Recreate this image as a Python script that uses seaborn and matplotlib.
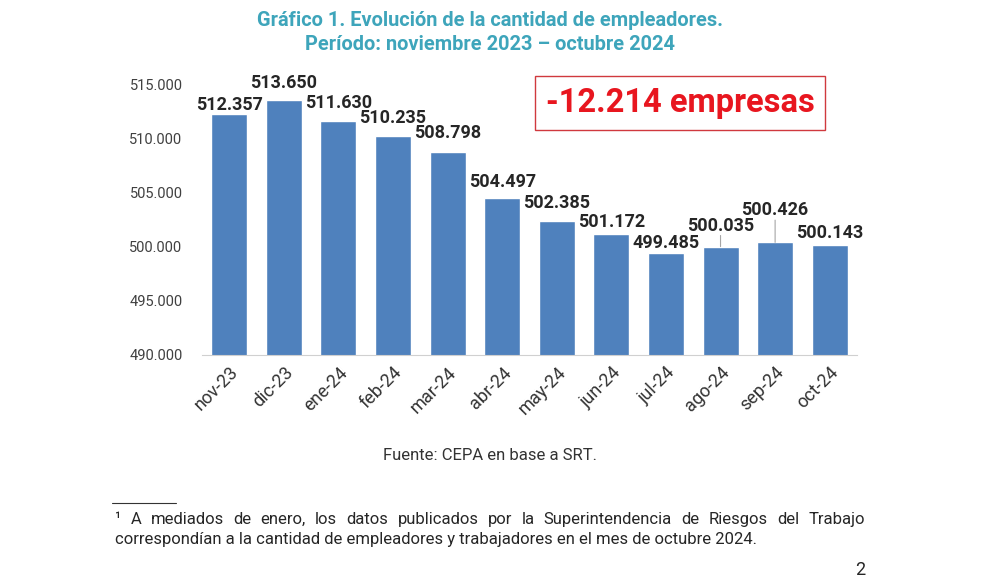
import matplotlib
matplotlib.use("Agg")
import matplotlib.pyplot as plt
import seaborn as sns
import pandas as pd

# ── Data ─────────────────────────────────────────────────────────────────────
months = ["nov-23", "dic-23", "ene-24", "feb-24", "mar-24", "abr-24",
          "may-24", "jun-24", "jul-24", "ago-24", "sep-24", "oct-24"]
employers = [512357, 513650, 511630, 510235, 508798, 504497,
             502385, 501172, 499485, 500035, 500426, 500143]
value_labels = ["512.357", "513.650", "511.630", "510.235", "508.798", "504.497",
                "502.385", "501.172", "499.485", "500.035", "500.426", "500.143"]
yticks = [490000, 495000, 500000, 505000, 510000, 515000]
ytick_labels = ["490.000", "495.000", "500.000", "505.000", "510.000", "515.000"]

df = pd.DataFrame({"mes": months, "empleadores": employers})

# label centre offsets above bar top (points) – leader line when large
label_offset = [6, 12, 13, 13, 14, 12, 13, 9, 7, 15, 23, 9]
leader = [False] * 9 + [True, True, False]

BAR = "#4f81bd"
TEAL = "#3ea5bb"
RED = "#e8161f"
DARK = "#262626"

sns.set_theme(style="white")
plt.rcParams["font.family"] = ["Roboto", "DejaVu Sans"]

fig = plt.figure(figsize=(9.92, 5.88), dpi=100)
ax = fig.add_axes([0.2036, 0.3963, 0.6603, 0.4592])

sns.barplot(data=df, x="mes", y="empleadores", color=BAR, width=0.66,
            saturation=1, ax=ax)
ax.set_ylim(490000, 515000)
ax.set_xlim(-0.5, len(months) - 0.5)
ax.set_yticks(yticks)
ax.set_yticklabels(ytick_labels, fontsize=10.5, color="#404040")
ax.set_xlabel("")
ax.set_ylabel("")

# x tick marks between categories
ax.set_xticks(range(len(months)))
ax.set_xticklabels(months, rotation=45, ha="right", rotation_mode="anchor",
                   fontsize=13, color="#333333")
ax.set_xticks([i - 0.5 for i in range(len(months) + 1)], minor=True)
ax.tick_params(axis="x", which="major", length=0, pad=6)
ax.tick_params(axis="x", which="minor", length=5, color="#d0d0d0", width=0.8)
ax.tick_params(axis="y", length=0, pad=14)

for s in ["top", "right", "left"]:
    ax.spines[s].set_visible(False)
ax.spines["bottom"].set_color("#d0d0d0")
ax.spines["bottom"].set_linewidth(0.8)

for i, (v, lab) in enumerate(zip(employers, value_labels)):
    ax.annotate(lab, xy=(i, v), xytext=(0, label_offset[i]),
                textcoords="offset points", ha="center", va="center",
                fontsize=13, fontweight="bold", color=DARK, annotation_clip=False)
    if leader[i]:
        ax.annotate("", xy=(i, v), xytext=(0, label_offset[i] - 7),
                    textcoords="offset points",
                    arrowprops=dict(arrowstyle="-", color="#a6a6a6", lw=0.8,
                                    shrinkA=0, shrinkB=0))

# highlight box
fig.text(0.6855, 0.825, "-12.214 empresas", ha="center", va="center",
         fontsize=23.5, fontweight="bold", color=RED,
         bbox=dict(boxstyle="square,pad=0.33", fc="white", ec="#d0393e", lw=1))

# titles
fig.text(0.494, 0.965, "Gráfico 1. Evolución de la cantidad de empleadores.",
         ha="center", va="center", fontsize=14.4, fontweight="bold", color=TEAL)
fig.text(0.494, 0.924, "Período: noviembre 2023 – octubre 2024",
         ha="center", va="center", fontsize=14.4, fontweight="bold", color=TEAL)

fig.text(0.494, 0.226, "Fuente: CEPA en base a SRT.", ha="center", va="center",
         fontsize=12, color="#333333")

# footnote separator
fig.add_artist(plt.Line2D([0.113, 0.177], [0.145, 0.145], color="#333333",
                          lw=0.8, transform=fig.transFigure))

# footnote, first line justified
line1 = ("¹ A mediados de enero, los datos publicados por la Superintendencia "
         "de Riesgos del Trabajo").split(" ")
x0, x1, y1 = 0.116, 0.872, 0.117
renderer = fig.canvas.get_renderer()
words = []
total = 0
for w in line1:
    t = fig.text(x0, y1, w, ha="left", va="center", fontsize=12,
                 color="#262626")
    bb = t.get_window_extent(renderer=renderer)
    wdt = bb.width / fig.bbox.width
    words.append((t, wdt))
    total += wdt
gap = (x1 - x0 - total) / (len(words) - 1)
xx = x0
for t, wdt in words:
    t.set_x(xx)
    xx += wdt + gap

fig.text(x0, 0.083, "correspondían a la cantidad de empleadores y trabajadores "
         "en el mes de octubre 2024.", ha="left", va="center", fontsize=12,
         color="#262626")

fig.text(0.872, 0.03, "2", ha="right", va="center", fontsize=13, color="#262626")

plt.savefig("out.png", dpi=100)
plt.close()
